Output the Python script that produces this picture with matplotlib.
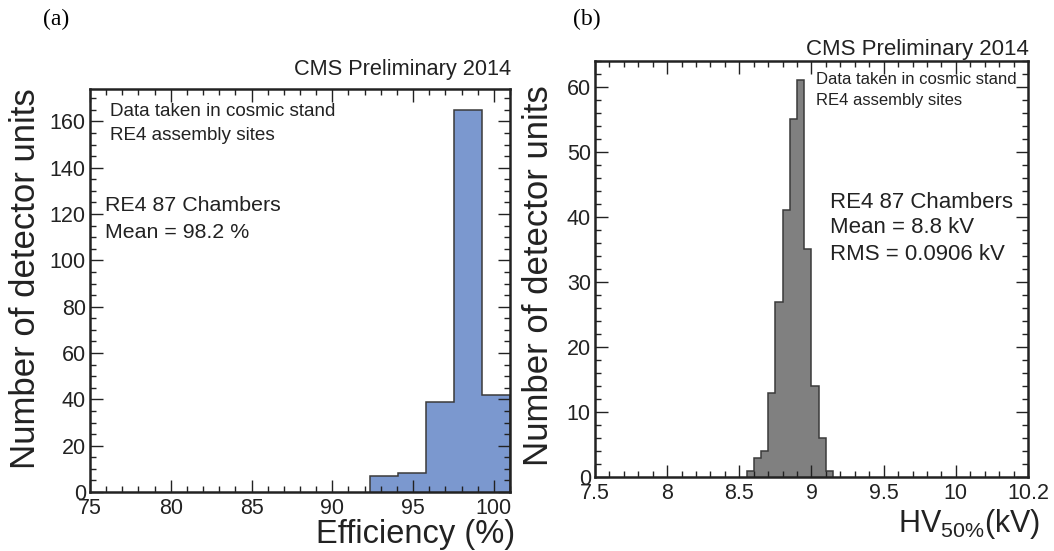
import matplotlib
matplotlib.use("Agg")
import matplotlib.pyplot as plt
from matplotlib.ticker import MultipleLocator, FixedLocator

plt.rcParams['font.family'] = ['Liberation Sans', 'DejaVu Sans']

# ---- data: panel (a) efficiency histogram ----
eff_edges = [92.333, 94.067, 95.8, 97.533, 99.267, 101.0]
eff_counts = [7, 8, 39, 165, 42]

# ---- data: panel (b) HV50% histogram ----
hv_edges = [8.55, 8.60, 8.65, 8.70, 8.75, 8.80, 8.85, 8.90, 8.95, 9.00, 9.05, 9.10, 9.15]
hv_counts = [1, 3, 4, 13, 27, 41, 55, 61, 35, 14, 6, 1]

a_xticks = [75, 80, 85, 90, 95, 100]
a_xticklabels = ['75', '80', '85', '90', '95', '100']
a_yticks = [0, 20, 40, 60, 80, 100, 120, 140, 160]
b_xticks = [7.5, 8.0, 8.5, 9.0, 9.5, 10.0, 10.5]
b_xticklabels = ['7.5', '8', '8.5', '9', '9.5', '10', '10.2']
b_yticks = [0, 10, 20, 30, 40, 50, 60]

W, H = 1054, 551
fig = plt.figure(figsize=(W / 100, H / 100), dpi=100)


def rect(l, t, r, b):
    return [l / W, 1 - b / H, (r - l) / W, (b - t) / H]


axa = fig.add_axes(rect(90, 89, 510, 492))
axb = fig.add_axes(rect(595, 61, 1028, 477))

edge = '#3a3a3a'
axa.stairs(eff_counts, eff_edges, fill=True, color='#7b98cf', lw=0)
axa.stairs(eff_counts, eff_edges, fill=False, color=edge, lw=1.1, baseline=0)
axb.stairs(hv_counts, hv_edges, fill=True, color='#808080', lw=0)
axb.stairs(hv_counts, hv_edges, fill=False, color=edge, lw=1.1, baseline=0)

axa.set_xlim(75, 101)
axa.set_ylim(0, 174)
axb.set_xlim(7.5, 10.5)
axb.set_ylim(0, 64)

for ax in (axa, axb):
    for s in ax.spines.values():
        s.set_linewidth(1.8)
        s.set_color('#222222')
    ax.tick_params(which='both', direction='in', top=True, right=True,
                   color='#222222', labelsize=15.5, labelcolor='#222222', pad=3)
    ax.tick_params(which='major', length=9, width=1.0)
    ax.tick_params(which='minor', length=4.5, width=1.0)
axa.tick_params(axis='x', which='both', pad=4)
axb.tick_params(axis='x', which='both', pad=4)

axa.xaxis.set_major_locator(FixedLocator(a_xticks))
axa.set_xticklabels(a_xticklabels)
axa.xaxis.set_minor_locator(MultipleLocator(1))
axa.yaxis.set_major_locator(FixedLocator(a_yticks))
axa.yaxis.set_minor_locator(MultipleLocator(5))

axb.xaxis.set_major_locator(FixedLocator(b_xticks))
axb.set_xticklabels(b_xticklabels)
axb.xaxis.set_minor_locator(MultipleLocator(0.1))
axb.yaxis.set_major_locator(FixedLocator(b_yticks))
axb.yaxis.set_minor_locator(MultipleLocator(2))

tc = '#222222'
# axis titles
fig.text(26 / W, 1 - 279 / H, 'Number of detector units', rotation=90, ha='center', va='center',
         fontsize=25, color=tc)
fig.text(539 / W, 1 - 276 / H, 'Number of detector units', rotation=90, ha='center', va='center',
         fontsize=25, color=tc)
fig.text(515 / W, 1 - 535 / H, 'Efficiency (%)', ha='right', va='center', fontsize=23.5, color=tc)
fig.text(1040 / W, 1 - 524 / H, r'HV$_{\mathregular{50\%}}$(kV)', ha='right', va='center',
         fontsize=22, color=tc)

# header
fig.text(511 / W, 1 - 69 / H, 'CMS Preliminary 2014', ha='right', va='center', fontsize=15.7, color=tc)
fig.text(1029 / W, 1 - 50 / H, 'CMS Preliminary 2014', ha='right', va='center', fontsize=16, color=tc)
fig.text(56 / W, 1 - 19 / H, '(a)', ha='center', va='center', fontsize=17, color='black',
         family='Liberation Serif')
fig.text(587 / W, 1 - 19 / H, '(b)', ha='center', va='center', fontsize=17, color='black',
         family='Liberation Serif')

# in-plot texts
fig.text(110 / W, 1 - 112 / H, 'Data taken in cosmic stand', ha='left', va='center', fontsize=13.6, color=tc)
fig.text(110 / W, 1 - 135 / H, 'RE4 assembly sites', ha='left', va='center', fontsize=13.6, color=tc)
fig.text(105 / W, 1 - 205 / H, 'RE4 87 Chambers', ha='left', va='center', fontsize=15.4, color=tc)
fig.text(105 / W, 1 - 232 / H, 'Mean = 98.2 %', ha='left', va='center', fontsize=15.4, color=tc)

fig.text(816 / W, 1 - 80 / H, 'Data taken in cosmic stand', ha='left', va='center', fontsize=12.0, color=tc)
fig.text(816 / W, 1 - 100 / H, 'RE4 assembly sites', ha='left', va='center', fontsize=12.0, color=tc)
fig.text(830 / W, 1 - 202 / H, 'RE4 87 Chambers', ha='left', va='center', fontsize=16, color=tc)
fig.text(830 / W, 1 - 228 / H, 'Mean = 8.8 kV', ha='left', va='center', fontsize=16, color=tc)
fig.text(830 / W, 1 - 255 / H, 'RMS = 0.0906 kV', ha='left', va='center', fontsize=16, color=tc)

fig.savefig('out.png', dpi=100)
